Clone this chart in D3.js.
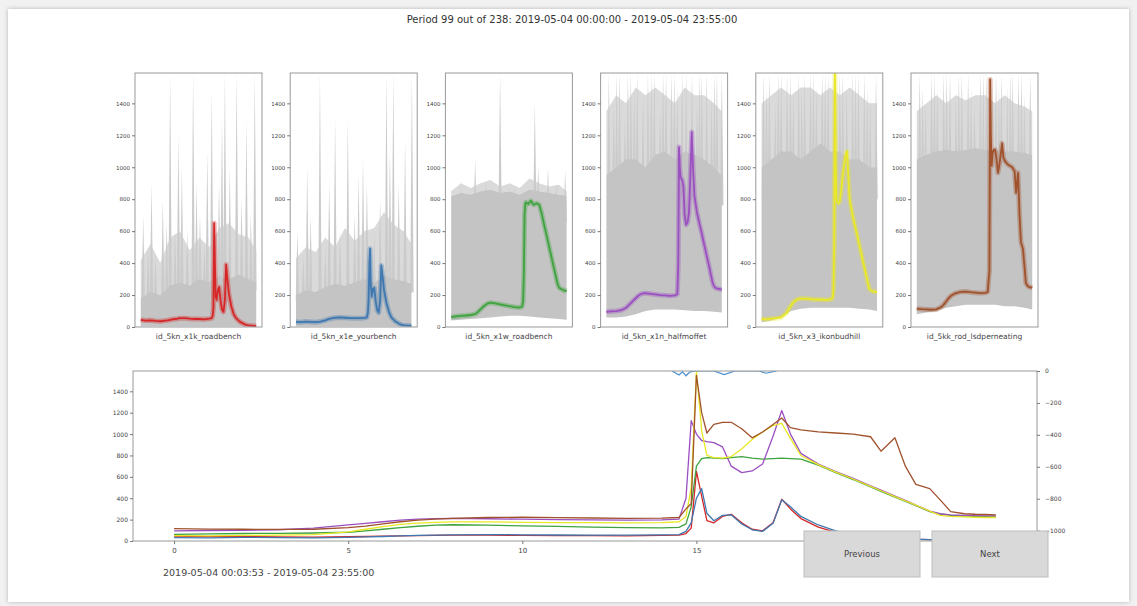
<!DOCTYPE html>
<html><head><meta charset="utf-8">
<script src="https://cdn.jsdelivr.net/npm/d3@7"></script>
<style>
html,body{margin:0;padding:0;background:#f1f1f1;}
svg{display:block;font-family:"DejaVu Sans",sans-serif;}
</style></head><body>
<svg id="chart" width="1137" height="606"></svg>
<script>
// ---------------- DATA ----------------
const titleText = "Period 99 out of 238: 2019-05-04 00:00:00 - 2019-05-04 23:55:00";
const rangeText = "2019-05-04 00:03:53 - 2019-05-04 23:55:00";
const sensorNames = ["id_5kn_x1k_roadbench", "id_5kn_x1e_yourbench", "id_5kn_x1w_roadbench",
                     "id_5kn_x1n_halfmoffet", "id_5kn_x3_ikonbudhill", "id_5kk_rod_lsdperneating"];
const seriesColors = ["#d62728", "#3f78b0", "#3fa33f", "#9b4fc0", "#e8e826", "#a0522d"];
const yTicks = [0, 200, 400, 600, 800, 1000, 1200, 1400];
const xTicks = [0, 5, 10, 15];
const rightTicks = [0, -200, -400, -600, -800, -1000];
const buttonLabels = ["Previous", "Next"];

const hours = [0,1,2,3,4, 5,5.5,6,6.5,7,7.5,8, 9,10,11,12,13,14,
  14.5,14.7,14.85,15.0,15.15,15.3,15.5,15.75, 16.0,16.3,16.6,16.9,17.2,17.45,17.7,18.0,
  18.5,19.0,19.5,20.0,20.3,20.7,21.0,21.3,21.7, 22.0,22.3,22.7,23.0,23.3,23.6];

const redVals = [45,40,42,38,36, 40,42,45,48,50,52,55, 55,52,50,50,48,52,
  55,70,120,650,420,190,170,230, 250,170,110,95,170,390,300,210,
  130,80,55,40,32,26,20,16,12, 10,9,8,7,6,6];
const blueVals = [32,30,34,32,30, 34,38,42,48,52,55,58, 60,58,56,55,55,57,
  60,90,170,400,490,260,190,240, 245,160,105,90,165,385,320,230,
  150,95,60,45,35,28,22,17,13, 11,10,9,8,8,7];
const greenVals = [62,66,70,72,75, 82,95,110,125,138,148,152, 148,142,136,130,125,122,
  128,160,320,700,770,780,775,770, 780,790,775,765,770,775,770,765,
  710,640,575,505,465,410,370,330,275, 250,240,235,230,228,225];
const purpleVals = [95,98,100,105,120, 150,165,180,195,205,210,212, 208,204,200,198,195,198,
  205,400,1126,1000,940,930,920,880, 700,640,655,720,980,1220,1000,820,
  720,650,585,515,475,420,380,335,280, 255,245,240,238,235,235];
const yellowVals = [50,48,52,55,60, 85,110,135,155,168,175,178, 178,175,172,172,170,172,
  180,230,500,1590,1030,800,780,775, 790,860,950,1020,1080,1100,960,800,
  715,645,580,510,470,415,375,335,280, 240,230,225,222,220,220];
const brownVals = [115,112,110,108,110, 125,140,160,180,195,205,212, 220,222,218,215,212,214,
  220,300,350,1550,1200,1010,1090,1110, 1110,1050,965,1020,1090,1150,1060,1040,
  1020,1010,1000,975,840,965,700,530,490, 385,275,255,250,248,245];

// twin (right) axis series, visible only near the top edge
const twinHours = [14.3,14.5,14.6,14.7,14.8,14.95,15.5,15.8,16.1,16.8,17.0,17.3];
const twinVals  = [0,-25,-5,-30,-8,0,0,-22,0,0,-14,0];

// grey history (all other periods) per sensor: envelope every 2 h
const bandHours = [0,2,4,6,8,10,12,14,16,18,20,22,23.6];
const bandLo1 = [5,5,5,5,5,5,5,5,5,5,5,5,5];
const bandHi1 = [180,220,200,260,280,260,300,280,320,300,330,300,280];
const haze1   = [420,520,400,560,600,480,560,500,620,650,580,560,480];
const bandLo2 = [5,5,5,5,5,5,5,5,5,5,5,5,5];
const bandHi2 = [200,230,220,250,270,260,280,300,280,320,300,290,270];
const haze2   = [430,500,470,560,500,620,540,600,620,720,640,600,520];
const bandLo3 = [40,45,50,55,60,65,70,70,65,60,55,50,45];
const bandHi3 = [820,840,830,850,860,840,850,830,860,850,840,830,820];
const haze3   = [850,900,870,900,920,880,900,870,930,900,880,890,850];
const bandLo4 = [60,60,65,80,100,110,110,110,105,100,100,95,90];
const bandHi4 = [950,1000,1050,1050,1000,1080,1100,1050,1100,1080,1050,1000,950];
const haze4   = [1350,1450,1400,1500,1450,1500,1450,1400,1500,1450,1450,1400,1350];
const bandLo5 = [30,40,60,100,115,120,120,120,120,120,115,110,100];
const bandHi5 = [1000,1050,1100,1100,1050,1100,1150,1100,1100,1050,1050,1000,1000];
const haze5   = [1400,1450,1500,1450,1500,1500,1450,1500,1450,1500,1450,1400,1400];
const bandLo6 = [80,90,100,120,130,140,140,140,140,130,130,120,110];
const bandHi6 = [1050,1080,1100,1110,1100,1110,1120,1110,1110,1100,1100,1090,1080];
const haze6   = [1350,1400,1450,1400,1450,1420,1450,1450,1400,1450,1400,1380,1350];

// spikes in grey history: [hour, peak]
const spikes1 = [[0.5,700],[1.5,500],[2.2,900],[3,450],[4.5,800],[5.3,650],[6,1590],[7,600],[7.7,1200],[8.4,1000],[9.5,600],[10.7,1590],[11.4,900],[12.1,700],[13,500],[13.6,1100],[14.5,1480],[16,900],[16.6,1300],[17.2,1590],[18.2,1000],[19.6,1590],[20.6,800],[21.6,1300],[22.5,700],[23.3,1590]];
const spikes2 = [[0.3,600],[1.5,450],[2.3,1000],[3,700],[4.9,1590],[6,500],[6.8,900],[8,1300],[9,600],[10.6,1300],[12,700],[12.8,950],[13.7,1060],[14.5,900],[16,600],[17.2,800],[18.5,1590],[19.2,1100],[19.9,1590],[21,900],[22.3,1170],[23.7,1590]];
const spikes3 = [[2,880],[4.9,1045],[7,900],[10,1590],[13,890],[17.1,1400],[17.8,1000],[19.8,1000],[21.5,900],[23.3,980]];
const spikes4 = [[0.5,1590],[1.5,1400],[2.1,1590],[2.7,1590],[3.8,1300],[4.4,1590],[5,1590],[5.7,1500],[6.3,1590],[7.5,1450],[8.5,1590],[9.2,1590],[9.8,1590],[11,1350],[11.6,1590],[12.2,1590],[13.3,1590],[13.9,1590],[14.5,1500],[15.5,1590],[16.3,1590],[17.5,1590],[18.5,1400],[19,1590],[19.5,1590],[20.5,1590],[21.5,1450],[22.1,1590],[22.6,1590],[23.6,1590]];
const spikes5 = [[0.4,1590],[1,1500],[1.6,1590],[2.8,1400],[3.4,1590],[4,1590],[5.2,1590],[5.9,1590],[6.5,1450],[7.6,1590],[8.2,1500],[8.8,1590],[10,1590],[10.6,1590],[11.2,1500],[12.4,1590],[13,1590],[13.6,1590],[14.8,1590],[16,1590],[16.6,1590],[17.4,1500],[18.6,1590],[19.2,1590],[19.8,1590],[21,1590],[21.6,1500],[22.2,1450],[23.4,1590]];
const spikes6 = [[0.6,1590],[1.2,1500],[1.8,1400],[3,1590],[3.6,1590],[4.2,1500],[5.5,1590],[6.1,1590],[6.8,1590],[8,1450],[8.6,1590],[9.2,1590],[10.5,1590],[11.1,1500],[11.8,1400],[13,1590],[13.6,1590],[14.2,1590],[16.2,1590],[16.8,1500],[17.3,1590],[18.5,1500],[19.1,1590],[19.6,1590],[20.8,1590],[21.4,1590],[22,1450],[23.2,1590]];

// ---------------- DRAWING ----------------
const svg = d3.select("#chart");
const defs = svg.append("defs");
const flt = defs.append("filter").attr("id","shadow").attr("x","-2%").attr("y","-2%").attr("width","104%").attr("height","104%");
flt.append("feDropShadow").attr("dx",0).attr("dy",0).attr("stdDeviation",2).attr("flood-color","#000").attr("flood-opacity",0.25);

svg.append("rect").attr("x",8).attr("y",9).attr("width",1121).attr("height",593)
  .attr("fill","#fff").attr("filter","url(#shadow)");

svg.append("text").attr("x",572).attr("y",23).attr("text-anchor","middle")
  .attr("font-size",10).attr("fill","#333").text(titleText);

const seriesList = [redVals, blueVals, greenVals, purpleVals, yellowVals, brownVals];
const bandLo = [bandLo1,bandLo2,bandLo3,bandLo4,bandLo5,bandLo6];
const bandHi = [bandHi1,bandHi2,bandHi3,bandHi4,bandHi5,bandHi6];
const hazeHi = [haze1,haze2,haze3,haze4,haze5,haze6];
const spikeList = [spikes1,spikes2,spikes3,spikes4,spikes5,spikes6];

const xDomain = [-1.18, 24.78];
const yMax = 1590;
const axisColor = "#777";
const textColor = "#444";
const fmt = d3.format("d");

function styleAxis(g, fs){
  g.selectAll("path").attr("stroke", axisColor);
  g.selectAll("line").attr("stroke", axisColor);
  g.selectAll("text").attr("fill", textColor).attr("font-size", fs).attr("font-family","DejaVu Sans");
}

const smallTop = 73, smallBottom = 327, smallW = 127;
seriesList.forEach((vals, i) => {
  const x0 = 135 + i * 155.2;
  const xs = d3.scaleLinear().domain(xDomain).range([x0, x0 + smallW]);
  const ys = d3.scaleLinear().domain([0, yMax]).range([smallBottom, smallTop]);
  const hiAt = d3.scaleLinear().domain(bandHours).range(bandHi[i]).clamp(true);
  const cid = "clip" + i;
  defs.append("clipPath").attr("id", cid).append("rect")
    .attr("x", x0).attr("y", smallTop).attr("width", smallW).attr("height", smallBottom - smallTop);
  const g = svg.append("g").attr("clip-path", `url(#${cid})`);
  const bandData = bandHours.map((h, k) => ({h, lo: bandLo[i][k], hi: bandHi[i][k], hz: hazeHi[i][k]}));
  g.append("path").datum(bandData).attr("fill", "#dadada")
    .attr("d", d3.area().x(d => xs(d.h)).y0(d => ys(d.hi)).y1(d => ys(d.hz)));
  spikeList[i].forEach(([h, v]) => {
    const b = ys(hiAt(h) * 0.8);
    g.append("path").attr("fill", "#cbcbcb")
      .attr("d", `M${xs(h - 0.35)},${b}L${xs(h)},${ys(v)}L${xs(h + 0.35)},${b}Z`);
  });
  g.append("path").datum(bandData).attr("fill", "#c4c4c4")
    .attr("d", d3.area().x(d => xs(d.h)).y0(d => ys(d.lo)).y1(d => ys(d.hi)));
  const pts = hours.map((h, k) => [h, vals[k]]);
  const line = d3.line().x(d => xs(d[0])).y(d => ys(d[1]));
  g.append("path").datum(pts).attr("fill", "none").attr("stroke", seriesColors[i])
    .attr("stroke-opacity", 0.35).attr("stroke-width", 5).attr("stroke-linejoin","round").attr("d", line);
  g.append("path").datum(pts).attr("fill", "none").attr("stroke", seriesColors[i])
    .attr("stroke-width", 1.8).attr("stroke-linejoin","round").attr("d", line);
  svg.append("rect").attr("x", x0).attr("y", smallTop).attr("width", smallW).attr("height", smallBottom - smallTop)
    .attr("fill", "none").attr("stroke", "#999").attr("stroke-width", 1);
  const ax = svg.append("g").attr("transform", `translate(${x0},0)`)
    .call(d3.axisLeft(ys).tickValues(yTicks).tickFormat(fmt).tickSize(3).tickPadding(2));
  ax.select(".domain").remove();
  styleAxis(ax, 5.5);
  svg.append("text").attr("x", x0 + smallW / 2).attr("y", 339).attr("text-anchor", "middle")
    .attr("font-size", 7.5).attr("fill", textColor).text(sensorNames[i]);
});

// ---------- bottom overview plot ----------
const bx0 = 133, bx1 = 1037, by0 = 371, by1 = 541;
const xb = d3.scaleLinear().domain(xDomain).range([bx0, bx1]);
const yb = d3.scaleLinear().domain([0, yMax]).range([by1, by0]);
const yr = d3.scaleLinear().domain([-1065, 0]).range([by1, by0]);
defs.append("clipPath").attr("id", "clipB").append("rect")
  .attr("x", bx0).attr("y", by0).attr("width", bx1 - bx0).attr("height", by1 - by0);
const gb = svg.append("g").attr("clip-path", "url(#clipB)");
const lineB = d3.line().x(d => xb(d[0])).y(d => yb(d[1]));
seriesList.forEach((vals, i) => {
  gb.append("path").datum(hours.map((h, k) => [h, vals[k]]))
    .attr("fill", "none").attr("stroke", seriesColors[i]).attr("stroke-width", 1.3)
    .attr("stroke-linejoin","round").attr("d", lineB);
});
gb.append("path").datum(twinHours.map((h, k) => [h, twinVals[k]]))
  .attr("fill", "none").attr("stroke", "#4a90d0").attr("stroke-width", 1.2)
  .attr("d", d3.line().x(d => xb(d[0])).y(d => yr(d[1])));
svg.append("rect").attr("x", bx0).attr("y", by0).attr("width", bx1 - bx0).attr("height", by1 - by0)
  .attr("fill", "none").attr("stroke", "#999").attr("stroke-width", 1);
const axL = svg.append("g").attr("transform", `translate(${bx0},0)`)
  .call(d3.axisLeft(yb).tickValues(yTicks).tickFormat(fmt).tickSize(3).tickPadding(2));
axL.select(".domain").remove(); styleAxis(axL, 6);
const axB = svg.append("g").attr("transform", `translate(0,${by1})`)
  .call(d3.axisBottom(xb).tickValues(xTicks).tickFormat(fmt).tickSize(3).tickPadding(4));
axB.select(".domain").remove(); styleAxis(axB, 7);
const axR = svg.append("g").attr("transform", `translate(${bx1},0)`)
  .call(d3.axisRight(yr).tickValues(rightTicks).tickFormat(fmt).tickSize(3).tickPadding(5));
axR.select(".domain").remove(); styleAxis(axR, 6);

svg.append("text").attr("x", 163).attr("y", 576).attr("font-size", 9.5)
  .attr("fill", textColor).text(rangeText);

// buttons
buttonLabels.forEach((lab, i) => {
  const x = 804 + i * 128, y = 531, w = 116, h = 46;
  svg.append("rect").attr("x", x).attr("y", y).attr("width", w).attr("height", h)
    .attr("fill", "#d9d9d9").attr("stroke", "#bdbdbd");
  svg.append("text").attr("x", x + w / 2).attr("y", y + h / 2 + 3).attr("text-anchor", "middle")
    .attr("font-size", 8.5).attr("fill", textColor).text(lab);
});
</script></body></html>
